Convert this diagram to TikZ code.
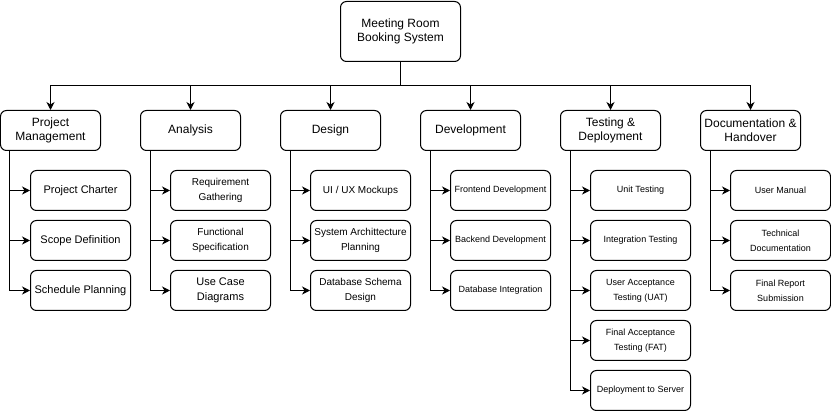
\documentclass[tikz,border=0pt]{standalone}
\usepackage{fontspec}
\setmainfont{Liberation Sans}
\usetikzlibrary{arrows.meta}
\tikzset{
  box/.style={draw=black, line width=1pt, rounded corners=6pt, fill=white, align=center, inner sep=0pt, text=black},
  rootbox/.style={box, minimum width=120pt, minimum height=60pt, font=\fontsize{12}{14.4}\selectfont},
  phase/.style={box, minimum width=100pt, minimum height=40pt, font=\fontsize{12}{14.4}\selectfont},
  taskL/.style={box, minimum width=100pt, minimum height=40pt, font=\fontsize{11}{15}\selectfont},
  taskM/.style={box, minimum width=100pt, minimum height=40pt, font=\fontsize{10}{15}\selectfont},
  taskS/.style={box, minimum width=100pt, minimum height=40pt, font=\fontsize{9}{15}\selectfont},
  arr/.style={draw=black, line width=1pt, -{Stealth[length=8pt,width=8pt,inset=2.5pt]}},
}
\begin{document}
\begin{tikzpicture}[x=1pt,y=-1pt]
\useasboundingbox[fill=white] (-0.5,-0.5) rectangle (830.5,410.5);
\node[rootbox] (root) at (400,31) {Meeting Room\\Booking System};
\node[phase] (pm) at (50,130) {Project\\Management};
\node[phase] (an) at (190,130) {Analysis};
\node[phase] (de) at (330,130) {Design};
\node[phase] (dv) at (470,130) {Development};
\node[phase] (td) at (610,130) {Testing \&\\Deployment};
\node[phase] (dh) at (750,130) {Documentation \&\\Handover};
\foreach \p in {pm,an,de,dv,td,dh}{
  \draw[arr] (root.south) -- ++(0,24) -| (\p.north);
}
% Project Management
\node[taskL] (pm1) at (80,190) {Project Charter};
\node[taskL] (pm2) at (80,240) {Scope Definition};
\node[taskL] (pm3) at (80,290) {Schedule Planning};
% Analysis
\node[taskM] (an1) at (220,190) {Requirement\\Gathering};
\node[taskM] (an2) at (220,240) {Functional\\Specification};
\node[taskL] (an3) at (220,290) {Use Case\\Diagrams};
% Design
\node[taskM] (de1) at (360,190) {UI / UX Mockups};
\node[taskM] (de2) at (360,240) {System Archittecture\\Planning};
\node[taskM] (de3) at (360,290) {Database Schema\\Design};
% Development
\node[taskS] (dv1) at (500,190) {Frontend Development};
\node[taskS] (dv2) at (500,240) {Backend Development};
\node[taskS] (dv3) at (500,290) {Database Integration};
% Testing
\node[taskS] (td1) at (640,190) {Unit Testing};
\node[taskS] (td2) at (640,240) {Integration Testing};
\node[taskS] (td3) at (640,290) {User Acceptance\\Testing (UAT)};
\node[taskS] (td4) at (640,340) {Final Acceptance\\Testing (FAT)};
\node[taskS] (td5) at (640,390) {Deployment to Server};
% Documentation
\node[taskS] (dh1) at (780,190) {User Manual};
\node[taskS] (dh2) at (780,240) {Technical\\Documentation};
\node[taskS] (dh3) at (780,290) {Final Report\\Submission};
\foreach \p/\c in {pm/pm1,pm/pm2,pm/pm3,an/an1,an/an2,an/an3,de/de1,de/de2,de/de3,dv/dv1,dv/dv2,dv/dv3,td/td1,td/td2,td/td3,td/td4,td/td5,dh/dh1,dh/dh2,dh/dh3}{
  \draw[arr] ([xshift=10pt]\p.south west) |- (\c.west);
}
\end{tikzpicture}
\end{document}
